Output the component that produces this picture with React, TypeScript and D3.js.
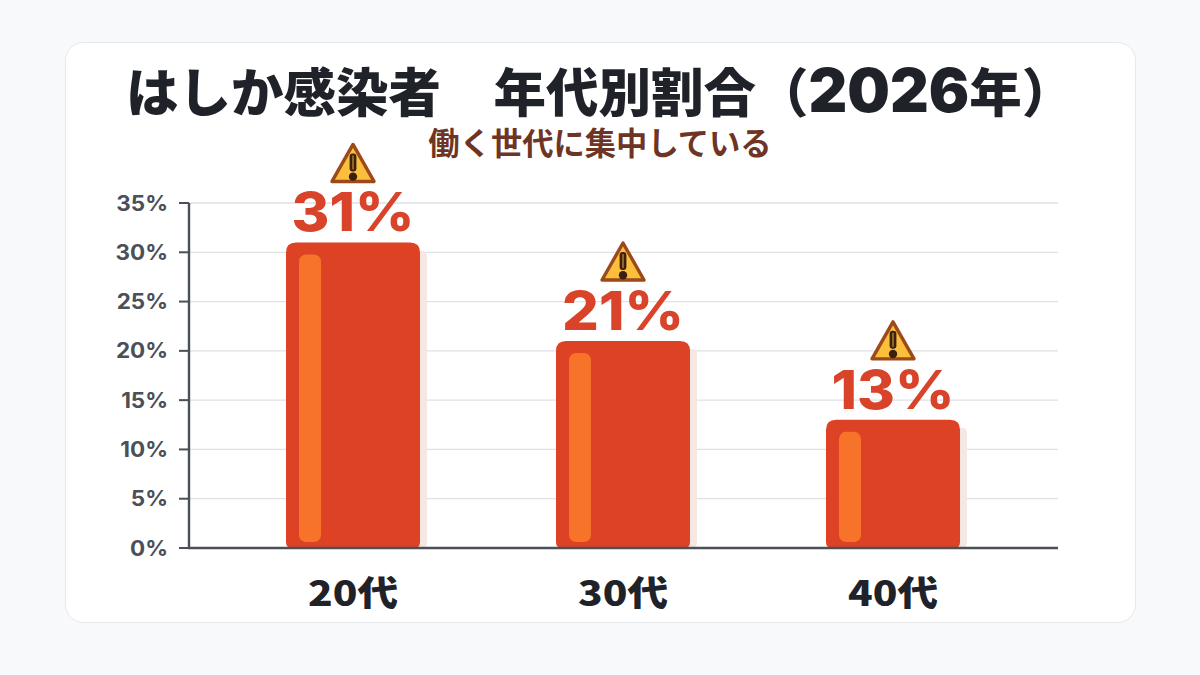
import React from "react";
import * as d3 from "d3";

const categories = ["20代", "30代", "40代"];
const values = [31, 21, 13];
const yTicks = [0, 5, 10, 15, 20, 25, 30, 35];
const titleParts = ["はしか感染者　年代別割合（", "2026", "年）"];
const subtitleText = "働く世代に集中している";

const W = 1200;
const H = 675;
const JP = "'Noto Sans CJK JP', 'Noto Sans', sans-serif";
const NUM = "Inter, 'Noto Sans CJK JP', sans-serif";

function Warning({ x, y }: { x: number; y: number }) {
  return (
    <g transform={`translate(${x},${y})`}>
      <path d="M0,-37 L21,0 L-21,0 Z" fill="#fbbf3c" stroke="#9c4a1a" strokeWidth={3.4} strokeLinejoin="round" />
      <rect x={-3.4} y={-28} width={6.8} height={18} rx={3} fill="#3b2010" />
      <rect x={-0.6} y={-26} width={1.2} height={14} fill="#c9922f" />
      <circle cx={0} cy={-4.8} r={4.2} fill="#3b2010" />
    </g>
  );
}

export default function App() {
  const x = d3.scaleBand<string>().domain(categories).range([218, 1028]).paddingInner(136 / 270).paddingOuter(68 / 270);
  const y = d3.scaleLinear().domain([0, 35]).range([548, 203]);
  const bw = x.bandwidth();

  return (
    <svg width={W} height={H} viewBox={`0 0 ${W} ${H}`} style={{ position: "absolute", left: 0, top: 0, display: "block" }}>
      <rect width={W} height={H} fill="#f8f9fb" />
      <rect x={65.5} y={42.5} width={1070} height={580} rx={18} fill="#ffffff" stroke="#e6e8ec" strokeWidth={1} />

      <text x={126} y={112} fontFamily={JP} fontWeight={900} fontSize={52.5} fill="#1f2329">
        {titleParts[0]}
        <tspan fontFamily={NUM} fontWeight={900} fontSize={60}>{titleParts[1]}</tspan>
        {titleParts[2]}
      </text>
      <text x={600} y={155} textAnchor="middle" fontFamily={JP} fontWeight={700} fontSize={31.3} fill="#6e3524">{subtitleText}</text>

      {yTicks.map((t) => (
        <g key={t}>
          {t > 0 && <line x1={189} x2={1058} y1={y(t)} y2={y(t)} stroke="#dfe1e5" strokeWidth={1.3} />}
          <line x1={179} x2={189} y1={y(t)} y2={y(t)} stroke="#4b4f58" strokeWidth={2} />
          <text transform={`translate(168,${y(t) + 7.5}) scale(1.07,1)`} textAnchor="end" fontFamily={NUM} fontWeight={700} fontSize={21} fill="#4b4f58">{t}%</text>
        </g>
      ))}

      {categories.map((c, i) => {
        const bx = x(c)!;
        const top = y(values[i]);
        const cx = bx + bw / 2;
        return (
          <g key={c}>
            <rect x={bx + 7} y={top + 8} width={bw} height={y(0) - top - 8} rx={5} fill="#f5e8e2" />
            <path
              d={`M${bx},${y(0) - 6} V${top + 10} Q${bx},${top} ${bx + 10},${top} H${bx + bw - 10} Q${bx + bw},${top} ${bx + bw},${top + 10} V${y(0) - 6} Q${bx + bw},${y(0)} ${bx + bw - 6},${y(0)} H${bx + 6} Q${bx},${y(0)} ${bx},${y(0) - 6} Z`}
              fill="#dc4223"
            />
            <rect x={bx + 13} y={top + 12} width={22} height={y(0) - top - 18} rx={7} fill="#f7732a" />
            <Warning x={cx} y={top - 61} />
            <text transform={`translate(${cx},${top - 11}) scale(1.07,1)`} textAnchor="middle" fontFamily={NUM} fontWeight={800} fontSize={54} fill="#d8432a">{values[i]}%</text>
            <text transform={`translate(${cx},606) scale(1.16,1)`} textAnchor="middle" fontFamily={JP} fontWeight={900} fontSize={35} fill="#1f2329">{c}</text>
          </g>
        );
      })}

      <line x1={189} x2={189} y1={203} y2={549} stroke="#4b4f58" strokeWidth={2.4} />
      <line x1={188} x2={1058} y1={548} y2={548} stroke="#4b4f58" strokeWidth={2.6} />
    </svg>
  );
}
